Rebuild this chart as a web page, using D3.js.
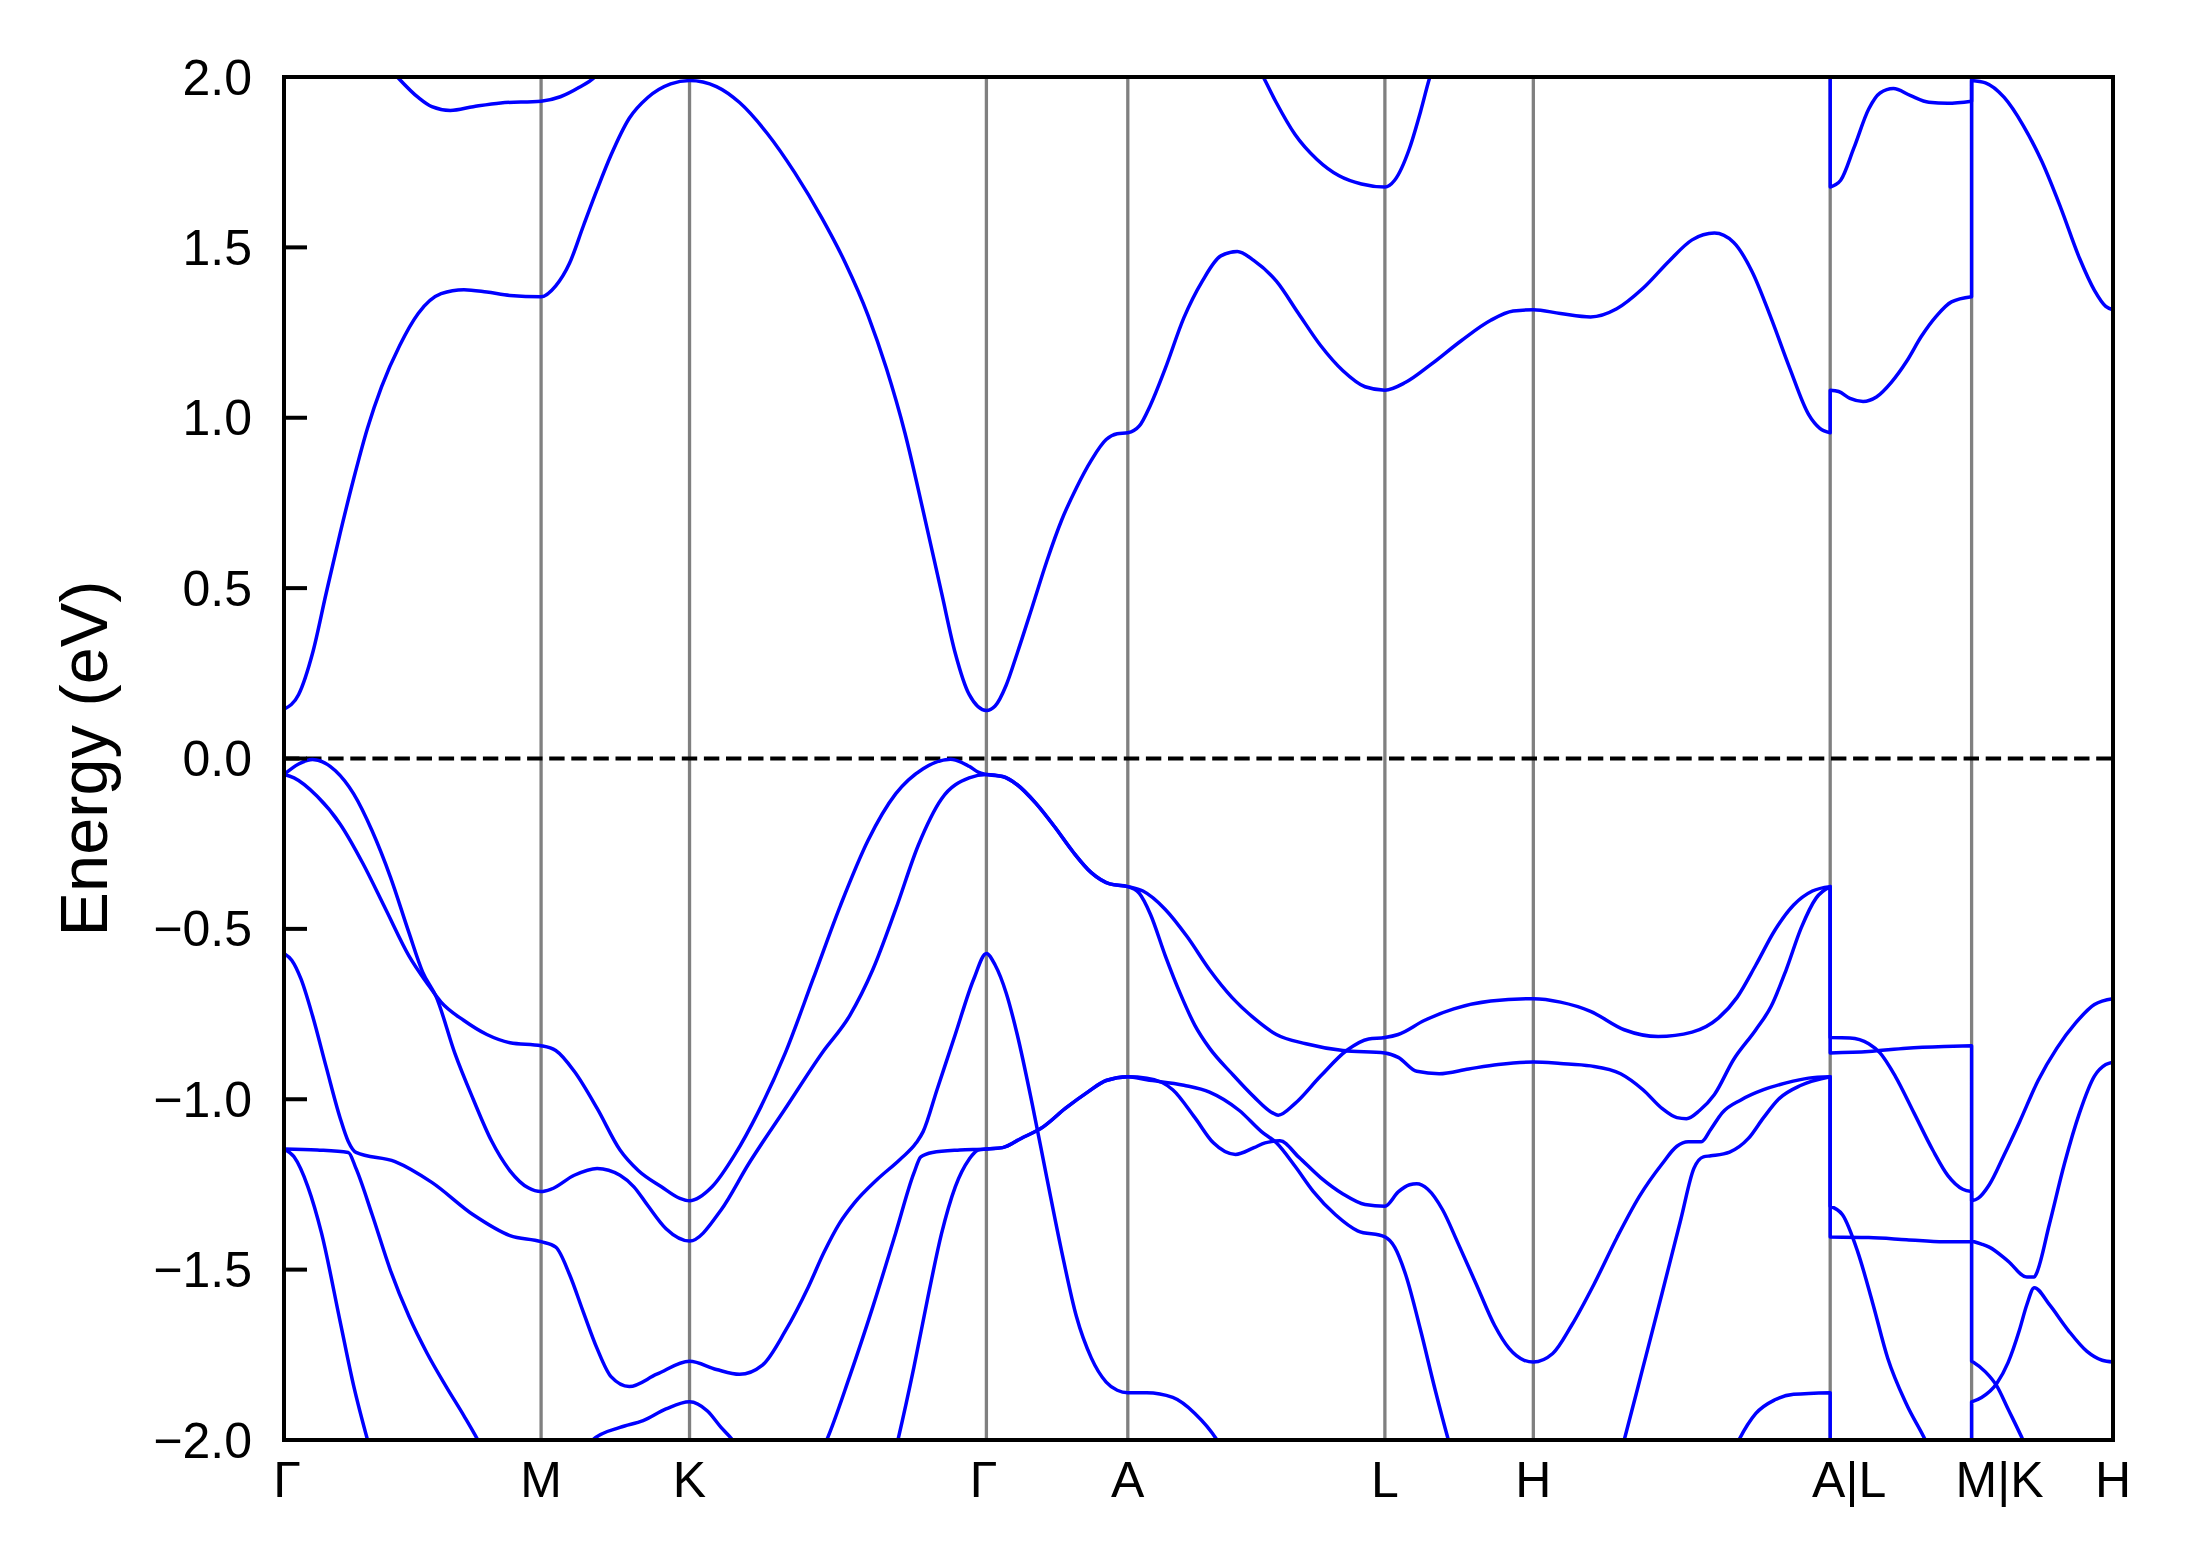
<!DOCTYPE html>
<html><head><meta charset="utf-8">
<script src="https://cdn.jsdelivr.net/npm/d3@7"></script>
<style>body{margin:0;background:#fff}</style>
</head><body>
<svg id="chart" width="2191" height="1567"></svg>
<script>
// high-symmetry path
const kTicks = [0, 1.0, 1.5774, 2.7321, 3.2821, 4.2821, 4.8595, 6.0142, 6.5642, 7.1142];
const kLabels = ["Γ","M","K","Γ","A","L","H","A|L","M|K","H"];
const yTicks = [-2, -1.5, -1, -0.5, 0, 0.5, 1, 1.5, 2];

// each band: list of continuous runs of [k, E(eV)]; runs are joined by jumps at A|L and M|K
const cb1 = [
 [[0,0.145],[0.057,0.188],[0.111,0.309],[0.164,0.485],[0.218,0.66],[0.271,0.821],[0.325,0.97],[0.379,1.09],[0.45,1.212],[0.522,1.306],[0.611,1.364],[0.70,1.376],[0.789,1.369],[0.879,1.359],[1.0,1.355],
  [1.057,1.387],[1.111,1.454],[1.164,1.562],[1.218,1.67],[1.272,1.771],[1.343,1.879],[1.415,1.94],[1.504,1.98],[1.5774,1.99],
  [1.682,1.972],[1.772,1.925],[1.879,1.835],[1.986,1.72],[2.093,1.585],[2.183,1.455],[2.272,1.3],[2.343,1.145],[2.415,0.956],[2.486,0.727],[2.558,0.485],[2.611,0.309],[2.665,0.188],[2.7321,0.141],
  [2.766,0.154],[2.809,0.215],[2.852,0.309],[2.91,0.444],[2.967,0.579],[3.025,0.70],[3.082,0.794],[3.14,0.875],[3.198,0.936],[3.241,0.953],[3.2821,0.956],
  [3.327,0.976],[3.37,1.037],[3.428,1.145],[3.5,1.293],[3.572,1.401],[3.644,1.475],[3.708,1.488],[3.773,1.461],[3.86,1.401],[3.946,1.306],[4.032,1.212],[4.119,1.138],[4.205,1.091],[4.2821,1.081],
  [4.363,1.104],[4.464,1.158],[4.579,1.226],[4.694,1.286],[4.781,1.313],[4.8595,1.317],
  [4.965,1.306],[5.082,1.296],[5.184,1.32],[5.286,1.38],[5.389,1.461],[5.477,1.522],[5.564,1.542],[5.638,1.515],[5.711,1.428],[5.784,1.293],[5.857,1.145],[5.93,1.01],[5.974,0.969],[6.0142,0.956]],
 [[6.0142,1.081],[6.047,1.077],[6.091,1.057],[6.142,1.048],[6.194,1.061],[6.252,1.104],[6.311,1.165],[6.369,1.239],[6.428,1.299],[6.486,1.34],[6.5642,1.355]],
 [[6.5642,1.99],[6.618,1.983],[6.691,1.94],[6.764,1.859],[6.838,1.751],[6.911,1.616],[6.984,1.468],[7.042,1.374],[7.086,1.327],[7.1142,1.317]]
];
const cb2 = [
 [[0,2.4],[0.25,2.2],[0.35,2.08],[0.441,2.0],[0.522,1.94],[0.575,1.913],[0.647,1.902],[0.736,1.913],[0.843,1.924],[1.0,1.929],[1.075,1.942],[1.147,1.969],[1.209,2.0],[1.3,2.1],[1.5774,2.3],
  [2.2,2.6],[2.7321,2.6],[3.2821,2.4],[3.6,2.2],[3.75,2.08],[3.809,2.0],[3.859,1.926],[3.932,1.832],[4.018,1.758],[4.104,1.71],[4.191,1.686],[4.2821,1.677],
  [4.32,1.697],[4.378,1.791],[4.421,1.899],[4.457,2.0],[4.52,2.12],[4.8595,2.3],[5.5,2.4],[6.0142,2.3]],
 [[6.0142,1.677],[6.055,1.697],[6.106,1.791],[6.164,1.906],[6.208,1.953],[6.26,1.966],[6.325,1.946],[6.398,1.926],[6.471,1.923],[6.5642,1.929]],
 [[6.5642,2.3],[7.1142,2.5]]
];
const vb1 = [
 [[0,-0.047],[0.057,-0.016],[0.111,-0.003],[0.2,-0.036],[0.271,-0.104],[0.343,-0.213],[0.414,-0.348],[0.486,-0.511],[0.539,-0.626],[0.593,-0.701],[0.664,-0.864],[0.736,-1.0],[0.807,-1.122],[0.879,-1.21],[0.95,-1.26],[1.0,-1.271],
  [1.039,-1.264],[1.129,-1.223],[1.218,-1.203],[1.307,-1.223],[1.361,-1.257],[1.415,-1.312],[1.486,-1.38],[1.5774,-1.416],
  [1.7,-1.325],[1.807,-1.19],[1.95,-1.027],[2.093,-0.864],[2.2,-0.755],[2.29,-0.62],[2.379,-0.443],[2.468,-0.253],[2.558,-0.118],[2.665,-0.057],[2.7321,-0.047],
  [2.795,-0.053],[2.852,-0.077],[2.924,-0.131],[2.996,-0.199],[3.068,-0.273],[3.14,-0.335],[3.212,-0.368],[3.2821,-0.376],
  [3.327,-0.396],[3.37,-0.457],[3.428,-0.579],[3.485,-0.688],[3.543,-0.783],[3.6,-0.85],[3.687,-0.925],[3.773,-0.993],[3.845,-1.04],[3.867,-1.047],[3.932,-1.013],[4.032,-0.932],[4.133,-0.857],[4.219,-0.823],[4.2821,-0.819],
  [4.334,-0.81],[4.435,-0.769],[4.55,-0.735],[4.694,-0.712],[4.8595,-0.705],
  [4.965,-0.715],[5.082,-0.742],[5.213,-0.796],[5.345,-0.816],[5.477,-0.803],[5.579,-0.762],[5.652,-0.701],[5.725,-0.606],[5.799,-0.504],[5.872,-0.43],[5.945,-0.389],[6.0142,-0.376]],
 [[6.0142,-0.819],[6.091,-0.82],[6.164,-0.837],[6.208,-0.864],[6.267,-0.932],[6.34,-1.04],[6.413,-1.149],[6.472,-1.224],[6.53,-1.264],[6.5642,-1.271]],
 [[6.5642,-1.416],[6.603,-1.425],[6.633,-1.434],[6.706,-1.475],[6.779,-1.522],[6.808,-1.522],[6.816,-1.512],[6.867,-1.366],[6.925,-1.19],[6.984,-1.04],[7.042,-0.932],[7.086,-0.898],[7.1142,-0.891]]
];
const vb2 = [
 [[0,-0.047],[0.039,-0.057],[0.129,-0.111],[0.218,-0.192],[0.307,-0.308],[0.396,-0.443],[0.486,-0.579],[0.557,-0.66],[0.611,-0.715],[0.7,-0.769],[0.789,-0.81],[0.879,-0.834],[1.0,-0.843],
  [1.057,-0.857],[1.129,-0.918],[1.218,-1.027],[1.307,-1.149],[1.379,-1.21],[1.468,-1.257],[1.54,-1.291],[1.5774,-1.298],
  [1.665,-1.257],[1.754,-1.162],[1.843,-1.04],[1.95,-0.864],[2.058,-0.647],[2.165,-0.43],[2.272,-0.24],[2.379,-0.104],[2.486,-0.03],[2.593,-0.002],[2.665,-0.023],[2.7,-0.04],[2.7321,-0.047],
  [2.795,-0.053],[2.852,-0.077],[2.924,-0.131],[2.996,-0.199],[3.068,-0.273],[3.14,-0.335],[3.212,-0.368],[3.2821,-0.376],
  [3.341,-0.389],[3.428,-0.443],[3.514,-0.524],[3.6,-0.62],[3.687,-0.701],[3.773,-0.762],[3.86,-0.81],[3.975,-0.837],[4.119,-0.857],[4.2821,-0.864],
  [4.334,-0.877],[4.406,-0.918],[4.493,-0.925],[4.608,-0.911],[4.723,-0.898],[4.8595,-0.891],
  [4.965,-0.895],[5.082,-0.902],[5.199,-0.925],[5.286,-0.972],[5.36,-1.027],[5.418,-1.054],[5.455,-1.057],[5.506,-1.033],[5.564,-0.986],[5.638,-0.884],[5.725,-0.796],[5.784,-0.728],[5.843,-0.62],[5.901,-0.498],[5.96,-0.409],[6.0142,-0.376]],
 [[6.0142,-0.864],[6.164,-0.86],[6.311,-0.85],[6.457,-0.845],[6.5642,-0.843]],
 [[6.5642,-1.298],[6.589,-1.291],[6.633,-1.251],[6.691,-1.163],[6.75,-1.068],[6.823,-0.945],[6.896,-0.85],[6.969,-0.776],[7.042,-0.722],[7.1142,-0.705]]
];
const vb3 = [
 [[0,-0.572],[0.03,-0.592],[0.066,-0.647],[0.111,-0.755],[0.164,-0.905],[0.218,-1.054],[0.25,-1.124],[0.28,-1.156],[0.432,-1.183],[0.575,-1.244],[0.736,-1.339],[0.879,-1.4],[1.0,-1.418],
  [1.057,-1.434],[1.111,-1.515],[1.164,-1.624],[1.218,-1.732],[1.272,-1.814],[1.343,-1.843],[1.45,-1.807],[1.5774,-1.769],
  [1.682,-1.793],[1.772,-1.807],[1.861,-1.78],[1.95,-1.68],[2.04,-1.55],[2.1,-1.45],[2.16,-1.365],[2.218,-1.305],[2.308,-1.235],[2.397,-1.176],[2.459,-1.128],[2.486,-1.095],[2.54,-0.972],[2.611,-0.81],[2.683,-0.647],[2.7321,-0.572],
  [2.766,-0.606],[2.809,-0.688],[2.852,-0.81],[2.91,-1.013],[2.967,-1.23],[3.025,-1.447],[3.082,-1.637],[3.14,-1.759],[3.198,-1.83],[3.241,-1.854],[3.2821,-1.861],
  [3.356,-1.861],[3.457,-1.875],[3.543,-1.922],[3.629,-2.0],[3.75,-2.2],[4.2821,-2.6],[4.8595,-2.7],
  [5.4,-2.45],[5.6,-2.1],[5.659,-2.0],[5.725,-1.922],[5.799,-1.882],[5.872,-1.866],[6.0142,-1.861]],
 [[6.0142,-2.5],[6.5642,-2.4]],
 [[6.5642,-2.2],[7.1142,-2.3]]
];
const vb4 = [
 [[0,-1.146],[0.129,-1.149],[0.25,-1.156],[0.28,-1.203],[0.343,-1.339],[0.414,-1.502],[0.486,-1.637],[0.557,-1.746],[0.629,-1.841],[0.7,-1.929],[0.754,-2.0],[0.85,-2.15],[1.0,-2.3],
  [1.1,-2.15],[1.2,-2.0],[1.307,-1.963],[1.397,-1.943],[1.486,-1.909],[1.5774,-1.888],
  [1.647,-1.915],[1.7,-1.963],[1.745,-2.0],[1.85,-2.15],[2.0,-2.15],[2.111,-2.0],[2.2,-1.814],[2.29,-1.61],[2.379,-1.393],[2.45,-1.217],[2.477,-1.169],[2.522,-1.156],[2.629,-1.149],[2.7321,-1.146],
  [2.795,-1.142],[2.867,-1.115],[2.953,-1.081],[3.039,-1.027],[3.126,-0.979],[3.198,-0.945],[3.2821,-0.934],
  [3.356,-0.938],[3.457,-0.972],[3.543,-1.054],[3.615,-1.128],[3.701,-1.162],[3.773,-1.142],[3.816,-1.128],[3.874,-1.122],[3.946,-1.169],[4.032,-1.23],[4.119,-1.278],[4.205,-1.309],[4.2821,-1.314],
  [4.334,-1.272],[4.378,-1.251],[4.406,-1.248],[4.449,-1.264],[4.507,-1.325],[4.565,-1.42],[4.637,-1.542],[4.709,-1.664],[4.766,-1.732],[4.824,-1.766],[4.8595,-1.771],
  [4.935,-1.746],[5.008,-1.664],[5.096,-1.542],[5.184,-1.407],[5.272,-1.285],[5.36,-1.19],[5.418,-1.138],[5.462,-1.125],[5.513,-1.125],[5.55,-1.088],[5.594,-1.04],[5.667,-1.002],[5.755,-0.972],[5.843,-0.952],[5.93,-0.938],[6.0142,-0.934]],
 [[6.0142,-1.314],[6.062,-1.339],[6.121,-1.447],[6.179,-1.597],[6.238,-1.76],[6.311,-1.895],[6.384,-2.0],[6.47,-2.15],[6.5642,-2.25]],
 [[6.5642,-1.888],[6.603,-1.875],[6.662,-1.834],[6.706,-1.773],[6.75,-1.678],[6.779,-1.603],[6.808,-1.553],[6.867,-1.603],[6.94,-1.678],[7.013,-1.74],[7.072,-1.766],[7.1142,-1.771]]
];
const vb5 = [
 [[0,-1.146],[0.039,-1.169],[0.093,-1.257],[0.146,-1.393],[0.218,-1.651],[0.271,-1.841],[0.325,-2.0],[0.45,-2.3],[1.0,-2.8],[1.5774,-2.9],
  [2.2,-2.5],[2.388,-2.0],[2.45,-1.787],[2.504,-1.583],[2.558,-1.393],[2.611,-1.257],[2.665,-1.176],[2.7,-1.149],[2.7321,-1.146],
  [2.795,-1.142],[2.867,-1.115],[2.953,-1.081],[3.039,-1.027],[3.126,-0.979],[3.198,-0.945],[3.2821,-0.934],
  [3.356,-0.943],[3.5,-0.959],[3.6,-0.979],[3.716,-1.033],[3.802,-1.095],[3.86,-1.128],[3.932,-1.196],[4.004,-1.271],[4.09,-1.339],[4.176,-1.386],[4.2821,-1.404],
  [4.32,-1.434],[4.363,-1.515],[4.421,-1.678],[4.478,-1.854],[4.529,-2.0],[4.7,-2.4],[4.8595,-2.6],
  [5.1,-2.3],[5.213,-2.0],[5.286,-1.787],[5.36,-1.57],[5.433,-1.353],[5.484,-1.203],[5.521,-1.169],[5.55,-1.166],[5.623,-1.155],[5.696,-1.115],[5.755,-1.054],[5.813,-1.0],[5.901,-0.959],[6.0142,-0.934]],
 [[6.0142,-1.404],[6.164,-1.406],[6.311,-1.412],[6.457,-1.418],[6.5642,-1.418]],
 [[6.5642,-1.769],[6.574,-1.773],[6.618,-1.8],[6.662,-1.841],[6.706,-1.909],[6.764,-2.0],[6.9,-2.25],[7.1142,-2.4]]
];
const bands = [cb1, cb2, vb1, vb2, vb3, vb4, vb5];

const svg = d3.select("#chart");
svg.append("rect").attr("width", 2191).attr("height", 1567).attr("fill", "#fff");
const box = {left: 284, right: 2113, top: 77, bottom: 1440};
const x = d3.scaleLinear().domain([kTicks[0], kTicks[kTicks.length - 1]]).range([box.left, box.right]);
const y = d3.scaleLinear().domain([-2, 2]).range([box.bottom, box.top]);

svg.append("clipPath").attr("id", "clip").append("rect")
  .attr("x", box.left).attr("y", box.top)
  .attr("width", box.right - box.left).attr("height", box.bottom - box.top);

// vertical high-symmetry lines
svg.append("g").selectAll("line").data(kTicks.slice(1, -1)).join("line")
  .attr("x1", d => x(d)).attr("x2", d => x(d))
  .attr("y1", box.top).attr("y2", box.bottom)
  .attr("stroke", "#808080").attr("stroke-width", 3.3);

// Fermi level
svg.append("line")
  .attr("x1", box.left).attr("x2", box.right)
  .attr("y1", y(0)).attr("y2", y(0))
  .attr("stroke", "#000").attr("stroke-width", 4)
  .attr("stroke-dasharray", "15.4,6.7");

// bands
const line = d3.line().x(d => x(d[0])).y(d => y(d[1])).curve(d3.curveMonotoneX);
const bandPath = runs => runs.map((r, i) => { const p = line(r); return i === 0 ? p : "L" + p.slice(1); }).join("");
svg.append("g").attr("clip-path", "url(#clip)")
  .selectAll("path").data(bands).join("path")
  .attr("d", bandPath)
  .attr("fill", "none").attr("stroke", "#0000ff")
  .attr("stroke-width", 3.5).attr("stroke-linejoin", "round");

// y axis ticks (inward) and labels
const fmt = d3.format(".1f");
const yt = svg.append("g");
yt.selectAll("line").data(yTicks).join("line")
  .attr("x1", box.left).attr("x2", box.left + 23)
  .attr("y1", d => y(d)).attr("y2", d => y(d))
  .attr("stroke", "#000").attr("stroke-width", 4);
yt.selectAll("text").data(yTicks).join("text")
  .attr("x", box.left - 32).attr("y", d => y(d)).attr("dy", "0.35em")
  .attr("text-anchor", "end")
  .attr("font-family", "Liberation Sans, Arial, sans-serif").attr("font-size", 50)
  .text(d => fmt(d));

// x labels
const dxFor = (l, i) => l === "A|L" ? 19 : (l === "M|K" ? 28 : (i === 0 ? 3 : (l === "Γ" ? -3 : 0)));
svg.append("g").selectAll("text").data(kTicks).join("text")
  .attr("x", d => x(d)).attr("y", box.bottom + 57)
  .attr("dx", (d, i) => dxFor(kLabels[i], i))
  .attr("text-anchor", "middle")
  .attr("font-family", "Liberation Sans, Arial, sans-serif").attr("font-size", 50)
  .text((d, i) => kLabels[i]);

// y label
svg.append("text")
  .attr("transform", `translate(107,${(box.top + box.bottom) / 2}) rotate(-90)`)
  .attr("text-anchor", "middle")
  .attr("font-family", "Liberation Sans, Arial, sans-serif").attr("font-size", 66.7)
  .text("Energy (eV)");

// frame
svg.append("rect")
  .attr("x", box.left).attr("y", box.top)
  .attr("width", box.right - box.left).attr("height", box.bottom - box.top)
  .attr("fill", "none").attr("stroke", "#000").attr("stroke-width", 4);
</script>
</body></html>
